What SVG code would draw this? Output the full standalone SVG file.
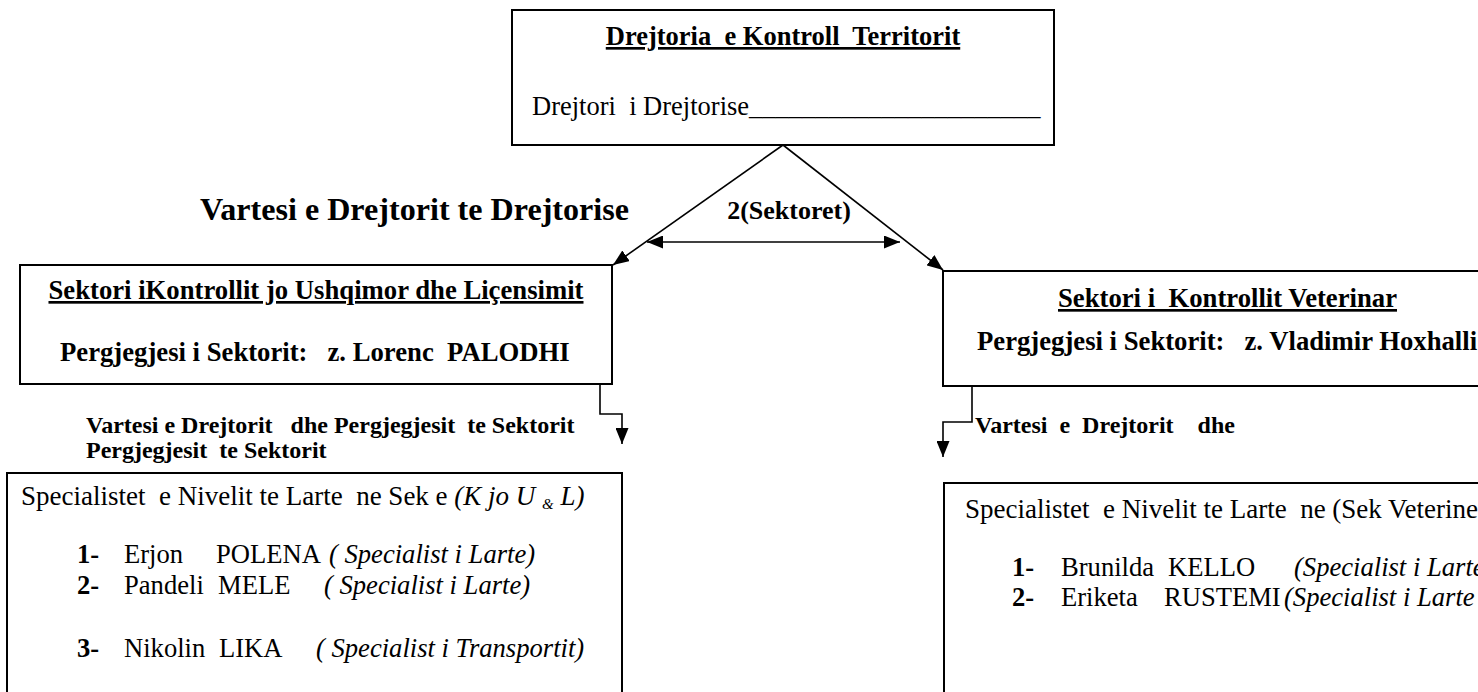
<svg xmlns="http://www.w3.org/2000/svg" width="1478" height="692" viewBox="0 0 1478 692" font-family="'Liberation Serif', 'DejaVu Serif', serif">
<defs>
<style>
text{font-family:'Liberation Serif','DejaVu Serif',serif;fill:#000;white-space:pre}
.b{font-weight:bold}
.i{font-style:italic}
.u{text-decoration:underline}
.box{fill:#fff;stroke:#000;stroke-width:2}
.ln{fill:none;stroke:#000;stroke-width:1.6}
</style>
<marker id="ah" viewBox="0 0 16 13" refX="16" refY="6.5" markerWidth="16" markerHeight="13" markerUnits="userSpaceOnUse" orient="auto-start-reverse"><path d="M0,0 L16,6.5 L0,13 z" fill="#000"/></marker>
</defs>
<rect width="1478" height="692" fill="#fff"/>

<g id="connectors">
<path class="ln" d="M783,145 L613,265" marker-end="url(#ah)"/>
<path class="ln" d="M783,145 L943,270" marker-end="url(#ah)"/>
<path class="ln" d="M647,242 L900,242" marker-start="url(#ah)" marker-end="url(#ah)"/>
<path class="ln" d="M600,384 V414 H622 V444" marker-end="url(#ah)"/>
<path class="ln" d="M972,386 V422 H943 V457" marker-end="url(#ah)"/>
</g>

<g id="director">
<rect class="box" x="512" y="10" width="542" height="135"/>
<text class="b u" x="783" y="45" font-size="26.5" text-anchor="middle">Drejtoria  e Kontroll  Territorit</text>
<text x="532" y="115" font-size="26.5">Drejtori  i Drejtorise______________________</text>
</g>

<g id="labels">
<text class="b" x="200" y="220" font-size="31" textLength="429" lengthAdjust="spacingAndGlyphs">Vartesi e Drejtorit te Drejtorise</text>
<text class="b" x="789" y="219" font-size="26" text-anchor="middle">2(Sektoret)</text>
</g>

<g id="sector-left">
<rect class="box" x="20" y="265" width="592" height="119"/>
<text class="b u" x="316" y="299" font-size="26.7" text-anchor="middle">Sektori iKontrollit jo Ushqimor dhe Liçensimit</text>
<text class="b" x="60" y="361" font-size="26.7">Pergjegjesi i Sektorit:   z. Lorenc  PALODHI</text>
</g>

<g id="sector-right">
<rect class="box" x="943" y="271" width="600" height="115"/>
<text class="b u" x="1058" y="307" font-size="26.7">Sektori i  Kontrollit Veterinar</text>
<text class="b" x="977" y="350" font-size="26.7">Pergjegjesi i Sektorit:   z. Vladimir Hoxhalli</text>
</g>

<g id="sub-left-label">
<text class="b" x="86" y="433" font-size="24">Vartesi e Drejtorit   dhe Pergjegjesit  te Sektorit</text>
<text class="b" x="86" y="458" font-size="24">Pergjegjesit  te Sektorit</text>
</g>

<g id="sub-right-label">
<text class="b" x="975" y="433" font-size="24">Vartesi  e  Drejtorit    dhe</text>
</g>

<g id="specialists-left">
<rect class="box" x="7" y="473" width="615" height="240"/>
<text x="21" y="505" font-size="27">Specialistet  e Nivelit te Larte  ne Sek e <tspan class="i">(K jo U </tspan><tspan class="i" font-size="15" dy="4">&amp;</tspan><tspan class="i" dy="-4"> L)</tspan></text>
<text y="563" font-size="26.6"><tspan class="b" x="77">1-</tspan><tspan x="124">Erjon</tspan><tspan x="216">POLENA</tspan><tspan class="i" x="329">( Specialist i Larte)</tspan></text>
<text y="594" font-size="26.6"><tspan class="b" x="77">2-</tspan><tspan x="124">Pandeli</tspan><tspan x="218">MELE</tspan><tspan class="i" x="324">( Specialist i Larte)</tspan></text>
<text y="657" font-size="26.6"><tspan class="b" x="77">3-</tspan><tspan x="124">Nikolin</tspan><tspan x="219">LIKA</tspan><tspan class="i" x="316">( Specialist i Transportit)</tspan></text>
</g>

<g id="specialists-right">
<rect class="box" x="944" y="483" width="600" height="230"/>
<text x="965" y="518" font-size="27">Specialistet  e Nivelit te Larte  ne (Sek Veteriner</text>
<text y="576" font-size="26.6"><tspan class="b" x="1012">1-</tspan><tspan x="1061">Brunilda</tspan><tspan x="1168">KELLO</tspan><tspan class="i" x="1294">(Specialist i Larte</tspan></text>
<text y="606" font-size="26.6"><tspan class="b" x="1012">2-</tspan><tspan x="1061">Eriketa</tspan><tspan x="1164">RUSTEMI</tspan><tspan class="i" x="1284">(Specialist i Larte</tspan></text>
</g>
</svg>
